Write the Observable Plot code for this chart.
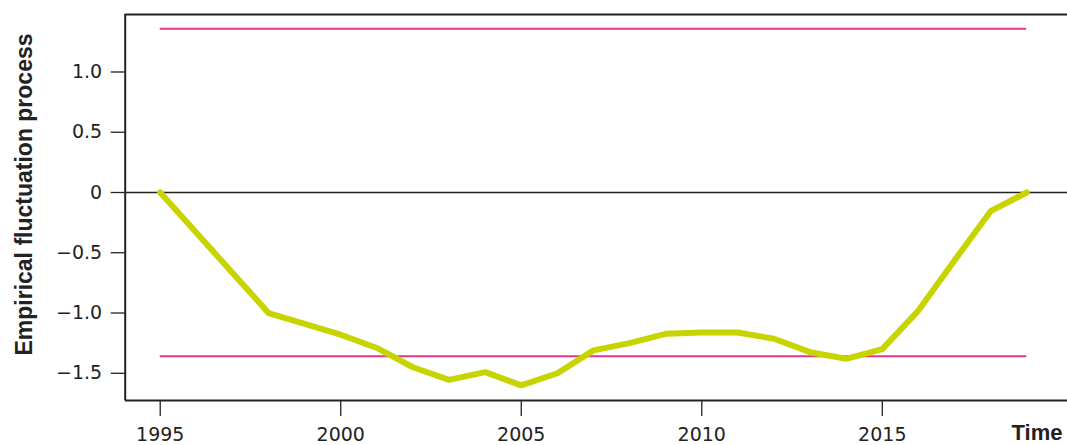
<!DOCTYPE html>
<html>
<head>
<meta charset="utf-8">
<script src="https://cdn.jsdelivr.net/npm/d3@7"></script>
<script src="https://cdn.jsdelivr.net/npm/@observablehq/plot@0.6"></script>
<style>
  html, body { margin: 0; padding: 0; background: #fff; }
  #chart svg { display: block; }
</style>
</head>
<body>
<div id="chart"></div>
<script>
const years = [1995, 1998, 2000, 2001, 2002, 2003, 2004, 2005, 2006, 2007, 2008, 2009, 2010, 2011, 2012, 2013, 2014, 2015, 2016, 2017, 2018, 2019];
const values = [0, -1.00, -1.18, -1.29, -1.45, -1.555, -1.49, -1.60, -1.50, -1.31, -1.25, -1.173, -1.162, -1.162, -1.214, -1.325, -1.38, -1.30, -0.98, -0.564, -0.155, 0];
const boundary = 1.358;
const yTicks = [-1.5, -1.0, -0.5, 0, 0.5, 1.0];
const xTicks = [1995, 2000, 2005, 2010, 2015];
const yLabel = "Empirical fluctuation process";
const xLabel = "Time";

const data = years.map((t, i) => ({t, v: values[i]}));
const xDomain = [1994.03, 2020.13];
const yDomain = [-1.726, 1.477];
const fmt = d => d === 0 ? "0" : d.toFixed(1).replace("-", "\u2212");

const chart = Plot.plot({
  width: 1067,
  height: 445,
  marginLeft: 124.7,
  marginRight: 0,
  marginTop: 14,
  marginBottom: 45,
  style: {fontFamily: "'DejaVu Sans', sans-serif", fontSize: "19px", color: "#222", background: "#fff"},
  x: {domain: xDomain},
  y: {domain: yDomain},
  marks: [
    Plot.axisY({ticks: yTicks, tickFormat: fmt, tickSize: 14, tickPadding: 9, label: null, stroke: "#222", strokeWidth: 1.3}),
    Plot.axisX({ticks: xTicks, tickFormat: d => String(d), tickSize: 16, tickPadding: 11, label: null, stroke: "#222", strokeWidth: 1.3}),
    Plot.ruleY([0], {stroke: "#222", strokeWidth: 1.3}),
    Plot.ruleY([boundary, -boundary], {x1: years[0], x2: years[years.length - 1], stroke: "#e2388c", strokeWidth: 2}),
    Plot.line(data, {x: "t", y: "v", stroke: "#c8d400", strokeWidth: 6, strokeLinejoin: "miter", strokeLinecap: "round"}),
    Plot.ruleY([yDomain[0], yDomain[1]], {stroke: "#222", strokeWidth: 2}),
    Plot.ruleX([xDomain[0]], {stroke: "#222", strokeWidth: 2}),
    Plot.text([yLabel], {frameAnchor: "left", textAnchor: "middle", lineAnchor: "middle", rotate: -90, dx: -101, dy: -13, fontWeight: "bold", fontSize: 23, fontFamily: "'Liberation Sans', Arial, sans-serif", fill: "#222"}),
    Plot.text([xLabel], {frameAnchor: "bottom-right", textAnchor: "end", lineAnchor: "middle", dx: -5, dy: 32.5, fontWeight: "bold", fontSize: 22, fontFamily: "'Liberation Sans', Arial, sans-serif", fill: "#222"})
  ]
});
document.getElementById("chart").appendChild(chart);
</script>
</body>
</html>
